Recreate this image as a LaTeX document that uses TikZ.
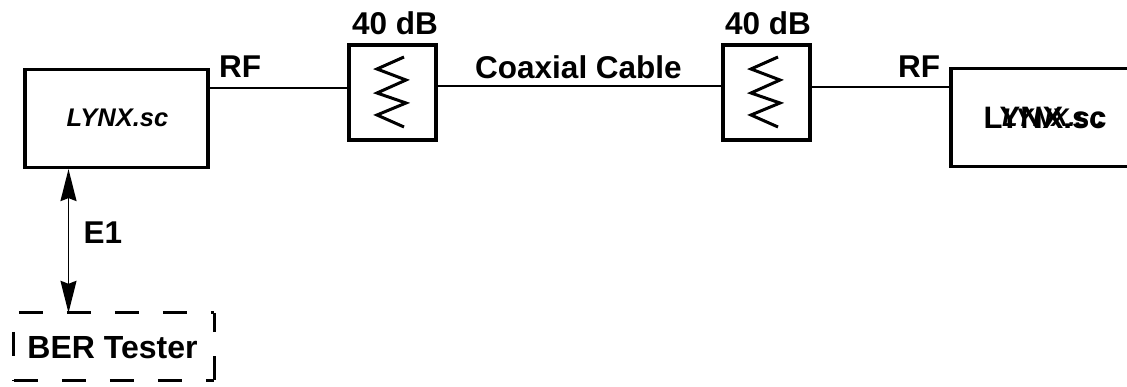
\documentclass[tikz,border=0pt]{standalone}
\usepackage{fontspec}
\setmainfont{Liberation Sans}
\usetikzlibrary{arrows.meta,calc}
\tikzset{
  x=1pt,y=-1pt,
  box/.style={draw,line width=3.2pt,minimum width=#1,minimum height=98pt,inner sep=0pt,anchor=center},
  lbl/.style={font=\fontsize{31.5}{36}\selectfont\bfseries,inner sep=0pt},
  ital/.style={font=\fontsize{25.5}{32}\selectfont\bfseries\itshape,inner sep=0pt},
  wire/.style={line width=1.8pt},
  dashside/.style={line width=3.2pt},
  zig/.style={line width=3pt,line join=miter}
}
\begin{document}
\begin{tikzpicture}
\useasboundingbox (0,0) rectangle (1127,387);
\clip (0,0) rectangle (1127,387);
% boxes
\node[box=183pt] (lynxa) at (116.5,118.5) {};
\node[box=190pt] (lynxb) at (1046,117.5) {};
\node[draw,line width=3.2pt,minimum width=87pt,minimum height=95pt,inner sep=0pt] (atta) at (392.5,92.5) {};
\node[draw,line width=3.2pt,minimum width=87pt,minimum height=95pt,inner sep=0pt] (attb) at (766.5,92.5) {};
\node[minimum width=200pt,minimum height=67pt,inner sep=0pt] (ber) at (114,346.5) {};
% labels
\node[ital] (la) at (117.5,118) {LYNX.sc};
\node[lbl,font=\fontsize{31}{36}\selectfont\bfseries] (lb1) at (1045,118) {LYNX.sc};
\node[ital] (lb2) at (1053,118) {LYNX.sc};
\node[lbl] (rf1) at (240,67) {RF};
\node[lbl] (rf2) at (919,67) {RF};
\node[lbl] (db1) at (395,23) {40 dB};
\node[lbl] (db2) at (768,23) {40 dB};
\node[lbl] (cc) at (578.5,67.5) {Coaxial Cable};
\node[lbl] (e1) at (103,233) {E1};
\node[lbl,font=\fontsize{32}{36}\selectfont\bfseries] (bt) at (112.5,348) {BER Tester};
% connectors
\draw[wire] (lynxa.east |- 0,88) -- (atta.west |- 0,88);
\draw[wire] (atta.east |- 0,86) -- (attb.west |- 0,86);
\draw[wire] (attb.east |- 0,87) -- (lynxb.west |- 0,87);
\coordinate (ea) at (lynxa.south -| 68.5,0);
\coordinate (eb) at (ber.north -| 68.5,0);
\draw[wire,{Stealth[length=32pt,width=16pt,inset=3pt]}-{Stealth[length=32pt,width=16pt,inset=3pt]}] (ea) -- (eb);
% zigzags
\draw[zig] (404,57) -- (377,69) -- (406,80) -- (377,93) -- (406,103) -- (377,115) -- (404,127);
\draw[zig] (778,57) -- (751,69) -- (780,80) -- (751,93) -- (780,103) -- (751,115) -- (778,127);
% dashed box
\draw[dashside,dash pattern=on 24pt off 24pt,dash phase=43pt] (ber.north west) -- (ber.north east);
\draw[dashside,dash pattern=on 24pt off 24pt] (ber.south west) -- (ber.south east);
\draw[dashside,dash pattern=on 24pt off 24pt] (ber.south east) -- (ber.north east);
\draw[dashside,dash pattern=on 24pt off 24pt,dash phase=29pt] (ber.north west) -- (ber.south west);
\end{tikzpicture}
\end{document}
